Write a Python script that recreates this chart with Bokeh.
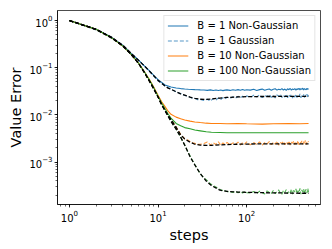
from bokeh.plotting import figure
from bokeh.models import Legend, LegendItem, Range1d
from bokeh.embed import file_html
from bokeh.resources import INLINE

# ---------------- data ----------------
steps_smooth = [1, 2, 3, 4, 5, 6, 7, 8, 9, 10, 11, 12, 13, 14, 16, 18, 20, 23, 26, 30,
                35, 40, 50, 60, 80, 100, 150, 200, 300, 400, 500]

theory_b1 = [1.0, 0.65, 0.44, 0.3, 0.2, 0.145, 0.11, 0.085, 0.067, 0.054, 0.047, 0.041,
             0.037, 0.035, 0.031, 0.028, 0.0262, 0.0238, 0.0224, 0.0215, 0.0213, 0.0218,
             0.0228, 0.0235, 0.0241, 0.0244, 0.0246, 0.0246, 0.0247, 0.0247, 0.0247]
theory_b10 = [1.0, 0.65, 0.43, 0.29, 0.19, 0.125, 0.08, 0.052, 0.035, 0.024, 0.0165, 0.0125,
              0.0098, 0.008, 0.0055, 0.0038, 0.0031, 0.00265, 0.0024, 0.0023, 0.00227, 0.00228,
              0.00232, 0.00236, 0.0024, 0.00242, 0.00244, 0.00245, 0.00245, 0.00245, 0.00245]
theory_b100 = [1.0, 0.65, 0.43, 0.29, 0.19, 0.125, 0.08, 0.052, 0.035, 0.024, 0.0163, 0.0122,
               0.0093, 0.0073, 0.005, 0.0034, 0.0023, 0.0013, 0.00088, 0.00057, 0.0004, 0.00032,
               0.000255, 0.00024, 0.000233, 0.00023, 0.000226, 0.000224, 0.000222, 0.00022, 0.00022]
orange_ng = [1.0, 0.65, 0.43, 0.29, 0.19, 0.127, 0.083, 0.056, 0.038, 0.026, 0.019, 0.015,
             0.012, 0.0103, 0.009, 0.0083, 0.0078, 0.0074, 0.0071, 0.0069, 0.0067, 0.0066,
             0.0066, 0.0065, 0.0066, 0.0065, 0.0064, 0.0065, 0.0066, 0.0065, 0.0066]
green_ng = [1.0, 0.65, 0.43, 0.29, 0.19, 0.126, 0.082, 0.055, 0.037, 0.025, 0.018, 0.0135,
            0.0105, 0.0086, 0.0066, 0.0059, 0.0054, 0.0051, 0.0048, 0.0046, 0.0044, 0.0043,
            0.00425, 0.0042, 0.0042, 0.0042, 0.0042, 0.0042, 0.0042, 0.0042, 0.0042]

steps_fine = [1, 2, 3, 4, 5, 6, 7, 8, 9, 10,
              12, 14, 16, 18, 20, 22, 24, 26, 28, 30,
              33, 36, 39, 42, 45, 48, 51, 54, 57, 60,
              65, 70, 75, 80, 85, 90, 95, 100] + list(range(110, 510, 10))

blue_ng = [1.0, 0.65, 0.44, 0.3, 0.2, 0.146, 0.11, 0.086, 0.068, 0.056,
           0.043, 0.039, 0.0372, 0.0362, 0.0355, 0.035, 0.0347, 0.0344, 0.0342, 0.034,
           0.0338, 0.0332, 0.0340, 0.0330, 0.0339, 0.0329, 0.0337, 0.0328, 0.0336, 0.0340,
           0.0331, 0.0341, 0.0333, 0.0344, 0.0334, 0.0346, 0.0335, 0.0343,
           0.0336, 0.0349, 0.0330, 0.0344, 0.0353, 0.0333, 0.0347, 0.0356, 0.0334, 0.0350,
           0.0359, 0.0336, 0.0352, 0.0340, 0.0362, 0.0338, 0.0354, 0.0332, 0.0358, 0.0343,
           0.0364, 0.0337, 0.0355, 0.0344, 0.0363, 0.0334, 0.0358, 0.0346, 0.0367, 0.0340,
           0.0360, 0.0347, 0.0370, 0.0338, 0.0362, 0.0350, 0.0343, 0.0366, 0.0348, 0.0360]
blue_g = [1.0, 0.63, 0.42, 0.29, 0.195, 0.143, 0.108, 0.083, 0.066, 0.053,
          0.041, 0.0352, 0.0306, 0.0284, 0.0258, 0.0247, 0.0229, 0.0226, 0.0211, 0.0214,
          0.0202, 0.0216, 0.0198, 0.0222, 0.0205, 0.0229, 0.0211, 0.0233, 0.0218, 0.0238,
          0.0224, 0.0243, 0.0228, 0.0248, 0.0231, 0.0251, 0.0234, 0.0254,
          0.0236, 0.0262, 0.0241, 0.0268, 0.0232, 0.0257, 0.0245, 0.0271, 0.0235, 0.0260,
          0.0229, 0.0266, 0.0248, 0.0274, 0.0233, 0.0259, 0.0240, 0.0276, 0.0231, 0.0263,
          0.0244, 0.0272, 0.0228, 0.0261, 0.0238, 0.0275, 0.0234, 0.0267, 0.0246, 0.0278,
          0.0230, 0.0265, 0.0242, 0.0273, 0.0233, 0.0262, 0.0249, 0.0277, 0.0237, 0.0264]
orange_g = [1.0, 0.64, 0.425, 0.285, 0.188, 0.124, 0.079, 0.052, 0.035, 0.024,
            0.0125, 0.0081, 0.0056, 0.0039, 0.0031, 0.0029, 0.0026, 0.0025, 0.00238, 0.0024,
            0.00248, 0.00268, 0.00232, 0.00256, 0.00238, 0.00270, 0.00228, 0.00255, 0.00236, 0.00263,
            0.00232, 0.00257, 0.00240, 0.00266, 0.00231, 0.00259, 0.00242, 0.00268,
            0.00232, 0.00262, 0.00238, 0.00270, 0.00229, 0.00258, 0.00245, 0.00274, 0.00234, 0.00265,
            0.00240, 0.00279, 0.00230, 0.00261, 0.00248, 0.00276, 0.00235, 0.00268, 0.00243, 0.00282,
            0.00231, 0.00264, 0.00252, 0.00280, 0.00237, 0.00271, 0.00244, 0.00285, 0.00233, 0.00266,
            0.00255, 0.00283, 0.00239, 0.00272, 0.00247, 0.00288, 0.00236, 0.00269, 0.00258, 0.00279]
green_g = [1.0, 0.645, 0.428, 0.287, 0.189, 0.124, 0.079, 0.052, 0.035, 0.024,
           0.0122, 0.0073, 0.005, 0.0034, 0.0023, 0.0016, 0.00116, 0.00089, 0.0007, 0.00057,
           0.000465, 0.000405, 0.000348, 0.000318, 0.000297, 0.000276, 0.000262, 0.000251, 0.000247, 0.000239,
           0.000236, 0.000228, 0.000242, 0.000225, 0.000238, 0.000222, 0.000240, 0.000227,
           0.000222, 0.000240, 0.000215, 0.000244, 0.000226, 0.000212, 0.000247, 0.000229, 0.000218, 0.000252,
           0.000214, 0.000241, 0.000257, 0.000221, 0.000209, 0.000250, 0.000230, 0.000262, 0.000216, 0.000245,
           0.000225, 0.000268, 0.000211, 0.000254, 0.000233, 0.000272, 0.000218, 0.000249, 0.000228, 0.000279,
           0.000210, 0.000258, 0.000236, 0.000270, 0.000214, 0.000251, 0.000265, 0.000222, 0.000276, 0.000231]

legend_labels = ["B = 1 Non-Gaussian", "B = 1 Gaussian", "B = 10 Non-Gaussian", "B = 100 Non-Gaussian"]

# ---------------- figure ----------------
BLUE, ORANGE, GREEN = "#1f77b4", "#ff7f0e", "#2ca02c"
FONT = "DejaVu Sans"

p = figure(width=330, height=247, x_axis_type="log", y_axis_type="log",
           x_range=Range1d(0.733, 682), y_range=Range1d(1.27e-4, 1.63),
           output_backend="svg", toolbar_location=None,
           min_border_left=57, min_border_right=10, min_border_top=10, min_border_bottom=43)

r_bng = p.line(steps_fine, blue_ng, line_color=BLUE, line_width=1.1)
r_bg = p.line(steps_fine, blue_g, line_color=BLUE, line_width=1.1, line_alpha=0.75, line_dash="4 2")
r_ong = p.line(steps_smooth, orange_ng, line_color=ORANGE, line_width=1.1)
r_og = p.line(steps_fine, orange_g, line_color=ORANGE, line_width=1.1, line_alpha=0.8, line_dash="4 2")
r_gng = p.line(steps_smooth, green_ng, line_color=GREEN, line_width=1.1)
r_gg = p.line(steps_fine, green_g, line_color=GREEN, line_width=1.1, line_alpha=0.8, line_dash="4 2")
for th in (theory_b1, theory_b10, theory_b100):
    p.line(steps_smooth, th, line_color="black", line_width=1.3, line_dash="4 2")

legend = Legend(items=[LegendItem(label=legend_labels[0], renderers=[r_bng]),
                       LegendItem(label=legend_labels[1], renderers=[r_bg]),
                       LegendItem(label=legend_labels[2], renderers=[r_ong]),
                       LegendItem(label=legend_labels[3], renderers=[r_gng])],
                location="top_right", margin=5, padding=3, spacing=2,
                glyph_width=21, glyph_height=13, label_height=13, label_standoff=9,
                label_text_font=FONT, label_text_font_size="10px", label_text_color="black",
                border_line_color="#cccccc", border_line_width=1,
                background_fill_color="white", background_fill_alpha=0.8)
p.add_layout(legend)

p.grid.visible = False
p.outline_line_color = "black"
p.outline_line_width = 0.7
p.outline_line_alpha = 1.0

for ax in (p.xaxis[0], p.yaxis[0]):
    ax.axis_line_color = "black"
    ax.axis_line_width = 0.7
    ax.major_tick_out = 3
    ax.major_tick_in = 0
    ax.minor_tick_out = 2
    ax.minor_tick_in = 0
    ax.major_tick_line_width = 0.7
    ax.minor_tick_line_width = 0.6
    ax.major_label_text_font = FONT
    ax.major_label_text_font_size = "10px"
    ax.major_label_text_color = "black"
    ax.major_label_standoff = 2
    ax.axis_label_text_font = FONT
    ax.axis_label_text_font_size = "14.5px"
    ax.axis_label_text_font_style = "normal"
    ax.axis_label_text_color = "black"
    ax.axis_label_standoff = 2

p.xaxis.axis_label = "steps"
p.yaxis.axis_label = "Value Error"

open("out.html", "w").write(file_html(p, INLINE))
